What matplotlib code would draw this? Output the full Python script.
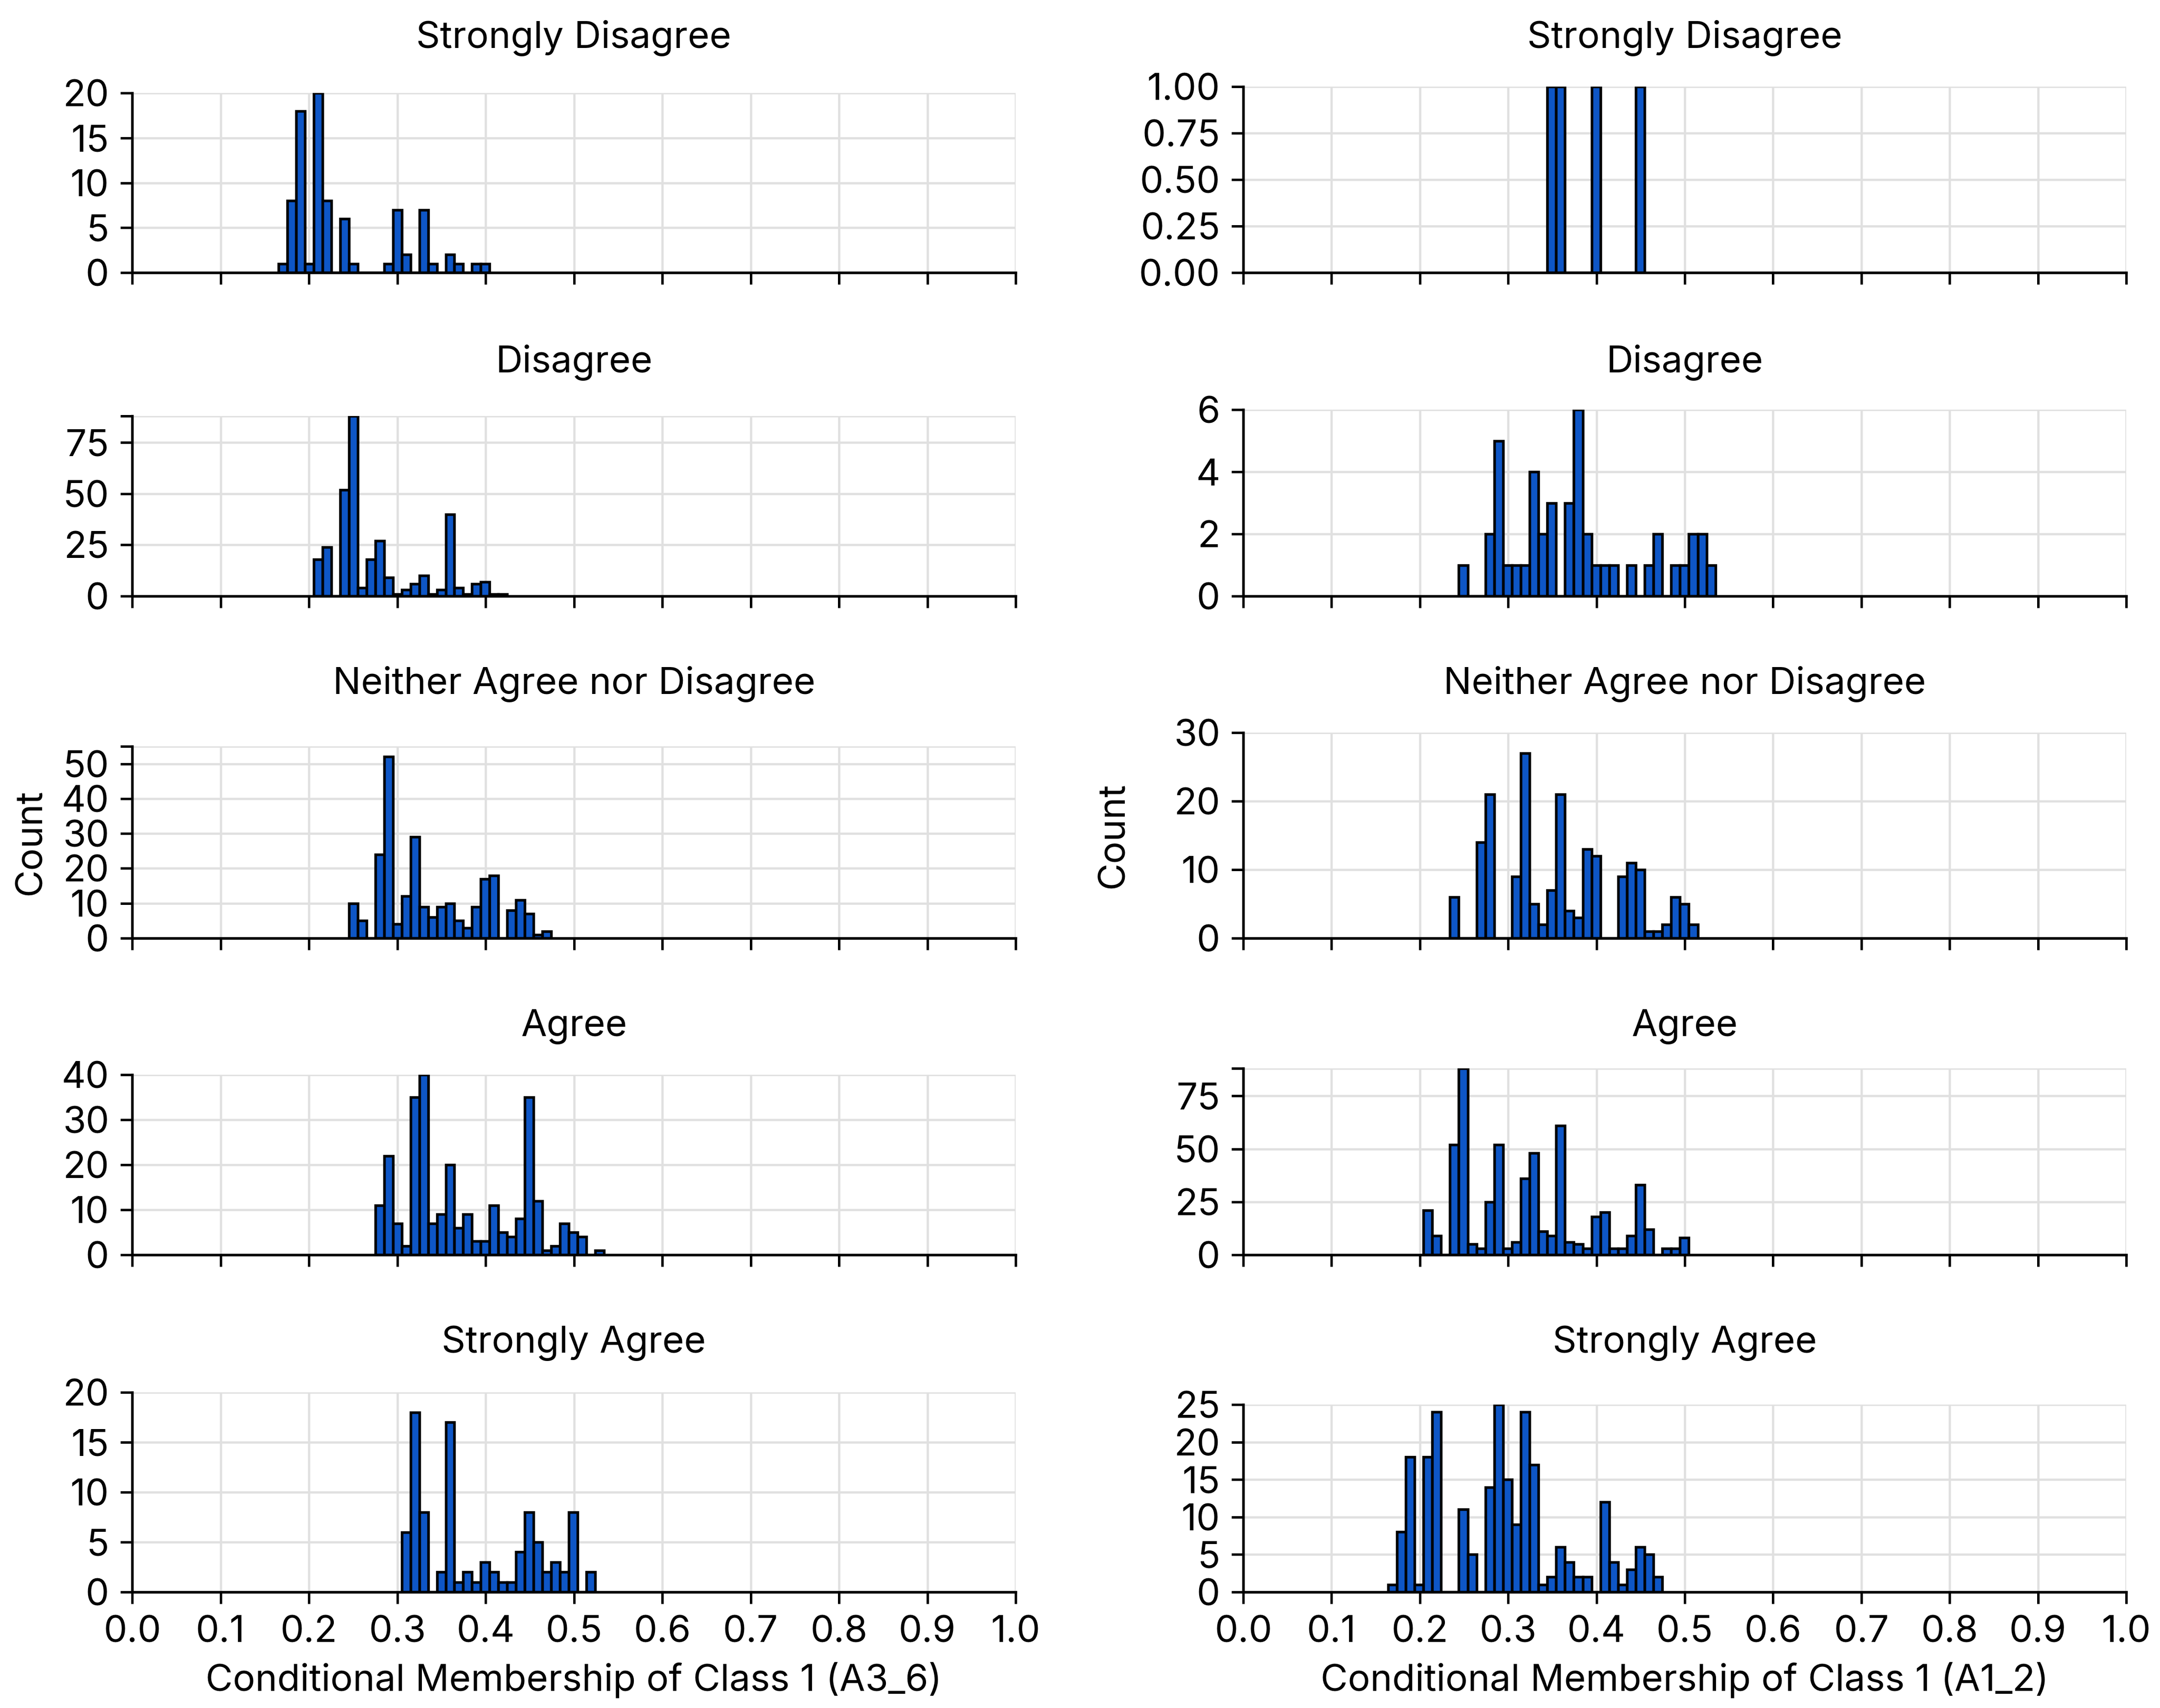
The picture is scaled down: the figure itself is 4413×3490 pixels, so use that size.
import numpy as np
import matplotlib
matplotlib.use("Agg")
import matplotlib.pyplot as plt

# ---------------- data ----------------
responses = ["Strongly Disagree", "Disagree", "Neither Agree nor Disagree",
             "Agree", "Strongly Agree"]
left_xlabel = "Conditional Membership of Class 1 (A3_6)"
right_xlabel = "Conditional Membership of Class 1 (A1_2)"

left_bin_start = 0.1658
left_bin_width = 0.00995
right_bin_start = 0.164
right_bin_width = 0.01002

left_first_bin = [0, 4, 8, 11, 14]
left_sd = [1, 8, 18, 1, 20, 8, 0, 6, 1, 0, 0, 0, 1, 7, 2, 0, 7, 1, 0, 2, 1, 0, 1, 1]
left_d = [18, 24, 0, 52, 88, 4, 18, 27, 9, 1, 3, 6, 10, 1, 3, 40, 4, 1, 6, 7, 1, 1]
left_n = [10, 5, 0, 24, 52, 4, 12, 29, 9, 6, 9, 10, 5, 3, 9, 17, 18, 0, 8, 11, 7, 1, 2]
left_a = [11, 22, 7, 2, 35, 40, 7, 9, 20, 6, 9, 3, 3, 11, 5, 4, 8, 35, 12, 1, 2, 7, 5, 4, 0, 1]
left_sa = [6, 18, 8, 0, 2, 17, 1, 2, 1, 3, 2, 1, 1, 4, 8, 5, 2, 3, 2, 8, 0, 2]

right_first_bin = [18, 8, 7, 4, 0]
right_sd = [1, 1, 0, 0, 0, 1, 0, 0, 0, 0, 1]
right_d = [1, 0, 0, 2, 5, 1, 1, 1, 4, 2, 3, 0, 3, 6, 2, 1, 1, 1, 0, 1, 0, 1, 2, 0, 1, 1, 2, 2, 1]
right_n = [6, 0, 0, 14, 21, 0, 0, 9, 27, 5, 2, 7, 21, 4, 3, 13, 12, 0, 0, 9, 11, 10, 1, 1, 2, 6, 5, 2]
right_a = [21, 9, 0, 52, 88, 5, 3, 25, 52, 3, 6, 36, 48, 11, 9, 61, 6, 5, 3, 18, 20, 3, 3, 9, 33,
           12, 0, 3, 3, 8]
right_sa = [1, 8, 18, 1, 18, 24, 0, 0, 11, 5, 0, 14, 25, 15, 9, 24, 17, 1, 2, 6, 4, 2, 2, 0, 12,
            4, 1, 3, 6, 5, 2]

left_ymax = [20, 88, 55, 40, 20]
left_ystep = [5, 25, 10, 10, 5]
right_ymax = [1.0, 6, 30, 88, 25]
right_ystep = [0.25, 2, 10, 25, 5]

x_ticks = [0.0, 0.1, 0.2, 0.3, 0.4, 0.5, 0.6, 0.7, 0.8, 0.9, 1.0]

# ---------------- style / layout ----------------
W, H = 4413, 3490
DPI = 300
FONT = ["Inter", "DejaVu Sans"]
FS = 18.3
BAR = "#0e56c6"
GRID = "#e0e0e0"

plt.rcParams["font.family"] = FONT
plt.rcParams["font.size"] = FS

fig = plt.figure(figsize=(W / DPI, H / DPI), dpi=DPI)

col_x = [(270, 2075), (2540, 4344)]
row_tb = [
    [(190, 557), (850, 1218), (1525, 1917), (2196, 2564), (2845, 3253)],
    [(177, 557), (837, 1218), (1497, 1917), (2183, 2564), (2870, 3253)],
]
title_baseline = [97, 760, 1417, 2116, 2764]
xlabel_baseline = 3455
count_x = [63, 2275]

columns = [
    dict(start=left_bin_start, width=left_bin_width, first=left_first_bin,
         counts=[left_sd, left_d, left_n, left_a, left_sa],
         ymax=left_ymax, ystep=left_ystep, xlabel=left_xlabel),
    dict(start=right_bin_start, width=right_bin_width, first=right_first_bin,
         counts=[right_sd, right_d, right_n, right_a, right_sa],
         ymax=right_ymax, ystep=right_ystep, xlabel=right_xlabel),
]


def fmt(v, step):
    if step < 1:
        return f"{v:.2f}"
    return f"{int(round(v))}"


for c, col in enumerate(columns):
    x0, x1 = col_x[c]
    for r in range(5):
        top, bot = row_tb[c][r]
        ax = fig.add_axes([x0 / W, 1 - bot / H, (x1 - x0) / W, (bot - top) / H])
        counts = np.array(col["counts"][r], dtype=float)
        first = col["first"][r]
        edges = col["start"] + col["width"] * np.arange(first, first + len(counts) + 1)
        ax.hist(edges[:-1], bins=edges, weights=counts, color=BAR,
                edgecolor="black", linewidth=1.3, zorder=3)
        ax.set_xlim(0, 1)
        ymax = col["ymax"][r]
        step = col["ystep"][r]
        ax.set_ylim(0, ymax)
        ticks = list(np.arange(0, ymax + step * 1e-6, step))
        labels = [fmt(t, step) for t in ticks]
        if abs(ticks[-1] - ymax) > 1e-9:
            ticks.append(ymax)
            labels.append("")
        ax.set_yticks(ticks)
        ax.set_yticklabels(labels)
        ax.set_xticks(x_ticks)
        if r == 4:
            ax.set_xticklabels([f"{v:.1f}" for v in x_ticks])
        else:
            ax.set_xticklabels([])
        ax.set_axisbelow(True)
        ax.grid(True, color=GRID, linewidth=1.1, zorder=0)
        for s in ("top", "right"):
            ax.spines[s].set_visible(False)
        for s in ("left", "bottom"):
            ax.spines[s].set_linewidth(1.3)
            ax.spines[s].set_color("black")
            ax.spines[s].set_zorder(4)
        ax.tick_params(axis="both", direction="out", length=5.8, width=1.2,
                       labelsize=FS, color="black", pad=5.5)
        xc = (x0 + x1) / 2 / W
        fig.text(xc, 1 - title_baseline[r] / H, responses[r], ha="center",
                 va="baseline", fontsize=FS)
    fig.text((x0 + x1) / 2 / W, 1 - xlabel_baseline / H, col["xlabel"],
             ha="center", va="baseline", fontsize=FS)
    t3, b3 = row_tb[c][2]
    fig.text(count_x[c] / W, 1 - ((t3 + b3) / 2) / H, "Count", rotation=90,
             ha="center", va="center", fontsize=FS)

fig.savefig("out.png", dpi=DPI, facecolor="white")
